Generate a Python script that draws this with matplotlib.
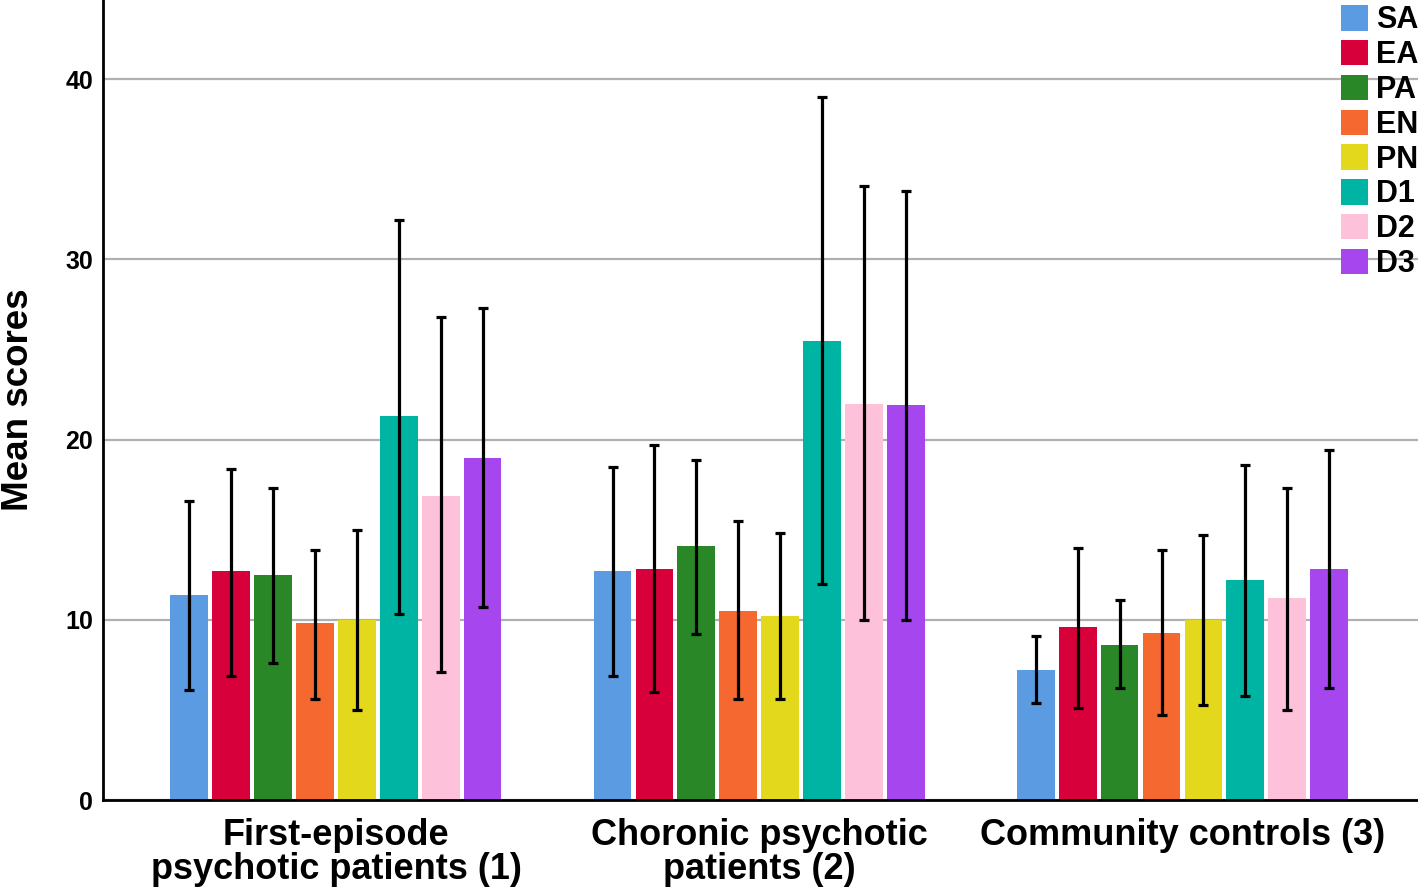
import numpy as np
import matplotlib
matplotlib.use("Agg")
import matplotlib.pyplot as plt
from matplotlib.patches import Patch

plt.rcParams["font.family"] = ["Liberation Sans", "DejaVu Sans"]
plt.rcParams["font.weight"] = "bold"

groups = ["First-episode\npsychotic patients (1)",
          "Choronic psychotic\npatients (2)",
          "Community controls (3)"]
measures = ["SA", "EA", "PA", "EN", "PN", "D1", "D2", "D3"]
colors = ["#5b9be2", "#d7003a", "#2a8728", "#f5682f",
          "#e4d81c", "#00b4a3", "#fdc1da", "#a546ee"]

# mean scores per group (rows) and measure (cols)
means = [
    [11.4, 12.7, 12.5, 9.8, 10.0, 21.3, 16.9, 19.0],
    [12.7, 12.8, 14.1, 10.5, 10.2, 25.5, 22.0, 21.9],
    [7.2, 9.6, 8.6, 9.3, 10.0, 12.2, 11.2, 12.8],
]
err_low = [
    [6.1, 6.9, 7.6, 5.6, 5.0, 10.3, 7.1, 10.7],
    [6.9, 6.0, 9.2, 5.6, 5.6, 12.0, 10.0, 10.0],
    [5.4, 5.1, 6.2, 4.7, 5.3, 5.8, 5.0, 6.2],
]
err_high = [
    [16.6, 18.4, 17.3, 13.9, 15.0, 32.2, 26.8, 27.3],
    [18.5, 19.7, 18.9, 15.5, 14.8, 39.0, 34.1, 33.8],
    [9.1, 14.0, 11.1, 13.9, 14.7, 18.6, 17.3, 19.4],
]

fig = plt.figure(figsize=(14.18, 8.88), dpi=100)
ax = fig.add_axes([0.0726, 0.099, 0.9274, 0.901])

group_step = 10.1
for g in range(len(groups)):
    for i, m in enumerate(measures):
        x = g * group_step + i
        mean = means[g][i]
        ax.bar(x, mean, width=0.9, color=colors[i], zorder=2)
        ax.errorbar(x, mean,
                    yerr=[[mean - err_low[g][i]], [err_high[g][i] - mean]],
                    fmt="none", ecolor="black", elinewidth=2.3,
                    capsize=3.8, capthick=2.3, zorder=3)

ax.set_xlim(-2.06, 29.32)
ax.set_ylim(0, 44.4)
ax.set_yticks([0, 10, 20, 30, 40])
ax.yaxis.grid(True, color="#b0b0b0", linewidth=1.6, zorder=0)
ax.set_axisbelow(True)
ax.tick_params(axis="y", length=0, labelsize=18, pad=7)
ax.tick_params(axis="x", length=0, labelsize=26, pad=13)
ax.set_xticks([g * group_step + 3.5 for g in range(len(groups))])
ax.set_xticklabels(groups, linespacing=0.95)
for lab in ax.get_yticklabels() + ax.get_xticklabels():
    lab.set_fontweight("bold")

for s in ["top", "right"]:
    ax.spines[s].set_visible(False)
ax.spines["left"].set_linewidth(2)
ax.spines["bottom"].set_linewidth(2)

ax.set_ylabel("Mean scores", fontsize=26.5, fontweight="bold")
ax.yaxis.set_label_coords(-0.051, 0.5)

handles = [Patch(facecolor=c, label=m) for m, c in zip(measures, colors)]
leg = ax.legend(handles=handles, loc="upper right", bbox_to_anchor=(1.006, 1.003),
                frameon=False, fontsize=22, handlelength=0.9, handleheight=0.9,
                handletextpad=0.25, labelspacing=0.15, borderaxespad=0.15,
                borderpad=0.1)
for t in leg.get_texts():
    t.set_fontweight("bold")

fig.savefig("out.png", dpi=100)
